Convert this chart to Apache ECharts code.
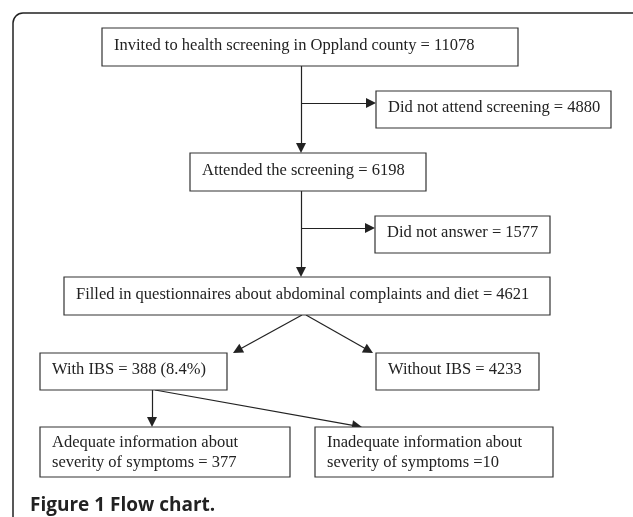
<!DOCTYPE html>
<html>
<head>
<meta charset="utf-8">
<script src="https://cdn.jsdelivr.net/npm/echarts@6/dist/echarts.min.js"></script>
<style>
html,body{margin:0;padding:0;background:#fff;}
#chart{width:633px;height:517px;}
</style>
</head>
<body>
<div id="chart"></div>
<script>
// ---- data ----
const stageLabels = [
  'Invited to health screening in Oppland county',
  'Did not attend screening',
  'Attended the screening',
  'Did not answer',
  'Filled in questionnaires about abdominal complaints and diet',
  'With IBS',
  'Without IBS',
  'Adequate information about\nseverity of symptoms',
  'Inadequate information about\nseverity of symptoms'
];
const stageCounts = [11078, 4880, 6198, 1577, 4621, 388, 4233, 377, 10];
const stageSeparators = [' = ', ' = ', ' = ', ' = ', ' = ', ' = ', ' = ', ' = ', ' ='];
const stageSuffixes = ['', '', '', '', '', ' (8.4%)', '', '', ''];
const flowLinks = [[0, 2], [0, 1], [2, 4], [2, 3], [4, 5], [4, 6], [5, 7], [5, 8]];
const captionText = 'Figure 1 Flow chart.';

// ---- layout (page units) ----
const boxLayout = [
  [102, 28, 518, 66],
  [376, 91, 611, 128],
  [190, 153, 426, 191],
  [375, 216, 550, 253],
  [64, 277, 550, 315],
  [40, 353, 227, 390],
  [376, 353, 539, 390],
  [40, 427, 290, 477],
  [315, 427, 553, 477]
];
const linkLayout = [
  [[301, 66], [301, 153]],
  [[301, 103], [376, 103]],
  [[301, 191], [301, 277]],
  [[301, 228], [375, 228]],
  [[302, 315], [233, 353]],
  [[306, 315], [373, 353]],
  [[152, 390], [152, 427]],
  [[155, 390], [362, 427]]
];
const arrowLen = 10;

// shorten each link so the arrowhead's tip meets the target edge
function shorten(seg, d) {
  const [a, b] = seg;
  const dx = b[0] - a[0], dy = b[1] - a[1];
  const L = Math.sqrt(dx * dx + dy * dy);
  return [a, [b[0] - dx / L * d, b[1] - dy / L * d]];
}

const boxData = boxLayout.map((b, i) => b.concat([i]));
const boxText = i => stageLabels[i] + stageSeparators[i] + stageCounts[i] + stageSuffixes[i];

const chart = echarts.init(document.getElementById('chart'), null, {renderer: 'canvas'});
chart.setOption({
  backgroundColor: '#ffffff',
  animation: false,
  grid: {left: 0, right: 0, top: 0, bottom: 0},
  xAxis: {type: 'value', min: 0, max: 633, show: false},
  yAxis: {type: 'value', min: 0, max: 517, inverse: true, show: false},
  title: {
    text: captionText,
    left: 25, top: 491,
    textStyle: {fontFamily: 'Open Sans', fontWeight: 'bold', fontSize: 19, color: '#222'}
  },
  graphic: [{
    type: 'rect',
    shape: {x: 13, y: 13, width: 660, height: 540, r: 10},
    style: {fill: 'none', stroke: '#222', lineWidth: 1.5},
    silent: true
  }],
  series: [
    {
      type: 'lines',
      coordinateSystem: 'cartesian2d',
      symbol: ['none', 'triangle'],
      symbolSize: [8, arrowLen],
      lineStyle: {color: '#222', width: 1.2, opacity: 1, curveness: 0},
      data: flowLinks.map((l, k) => ({coords: shorten(linkLayout[k], arrowLen / 2)})),
      z: 2
    },
    {
      type: 'custom',
      coordinateSystem: 'cartesian2d',
      clip: false,
      data: boxData,
      encode: {x: [0, 2], y: [1, 3]},
      renderItem: function (params, api) {
        const p1 = api.coord([api.value(0), api.value(1)]);
        const p2 = api.coord([api.value(2), api.value(3)]);
        const idx = api.value(4);
        const txt = boxText(idx);
        const multi = txt.indexOf('\n') >= 0;
        return {
          type: 'group',
          children: [
            {
              type: 'rect',
              shape: {x: p1[0], y: p1[1], width: p2[0] - p1[0], height: p2[1] - p1[1]},
              style: {fill: '#fff', stroke: '#333', lineWidth: 1.2}
            },
            {
              type: 'text',
              x: p1[0] + 12,
              y: (p1[1] + p2[1]) / 2 + (multi ? 1 : -1.5),
              style: {
                text: txt,
                fontFamily: 'Liberation Serif',
                fontSize: 16.5,
                lineHeight: 20,
                fill: '#222',
                align: 'left',
                verticalAlign: 'middle'
              }
            }
          ]
        };
      },
      z: 3
    }
  ]
});
</script>
</body>
</html>
